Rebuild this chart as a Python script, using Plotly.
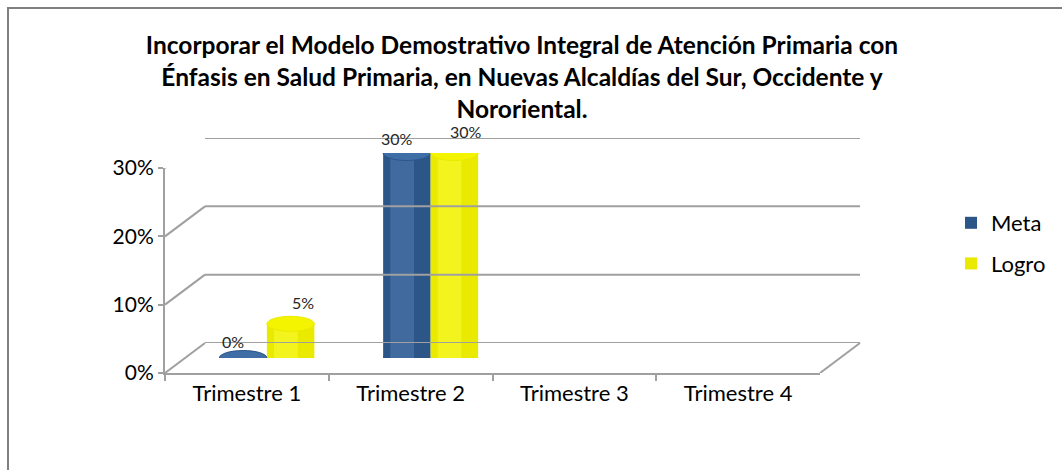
import plotly.graph_objects as go

# datos
trimestres = ["Trimestre 1", "Trimestre 2", "Trimestre 3", "Trimestre 4"]
meta = [0.0, 0.30, None, None]
logro = [0.05, 0.30, None, None]
ticks_y = [0.0, 0.1, 0.2, 0.3]
tick_text = ["0%", "10%", "20%", "30%"]

W, H = 1062, 470
GRID = "#a0a0a0"
AZUL = "#2c5688"
AZUL_LUZ = "#5a86bd"
AZUL_TOP = "#3f6da6"
AMARILLO = "#eaea00"
AMARILLO_LUZ = "#ffff40"
AMARILLO_TOP = "#f4f400"
FONT = "Lato"
BAR_W = 0.29
DX, DY = 40, 30  # profundidad del "3D" en px


def px_x(a, b):
    return [a / W, b / W]


def px_y(bottom, top):
    return [(H - bottom) / H, (H - top) / H]


fig = go.Figure()

# eje frontal (solo para dibujar ejes/etiquetas)
fig.add_trace(go.Scatter(
    x=trimestres, y=[0] * 4, xaxis="x", yaxis="y",
    mode="markers", marker=dict(opacity=0), showlegend=False, hoverinfo="skip",
))

# barras (cilindros) en el plano medio
for name, vals, off, body, luz, grp in (("Meta", meta, -BAR_W, AZUL, AZUL_LUZ, "a"),
                                         ("Logro", logro, 0, AMARILLO, AMARILLO_LUZ, "b")):
    fig.add_trace(go.Bar(
        name=name, x=trimestres, y=vals, xaxis="x3", yaxis="y3",
        marker=dict(color=body, line=dict(width=0)), width=BAR_W, offset=off,
        legendgroup=grp,
    ))
    # brillo del cilindro
    fig.add_trace(go.Bar(
        x=trimestres, y=vals, xaxis="x3", yaxis="y3", showlegend=False, hoverinfo="skip",
        marker=dict(color=luz, opacity=0.45, line=dict(width=0)),
        width=BAR_W * 0.5, offset=off + BAR_W * 0.15, legendgroup=grp,
    ))

shapes = []
annotations = []

# pared del fondo: lineas horizontales
for v in ticks_y:
    shapes.append(dict(type="line", xref="x2 domain", yref="y2", x0=0, x1=1, y0=v, y1=v,
                       line=dict(color=GRID, width=2)))
    # diagonales de la pared lateral
    shapes.append(dict(type="line", xref="x domain", yref="y", xsizemode="pixel", ysizemode="pixel",
                       xanchor=0, yanchor=v, x0=0, x1=DX, y0=0, y1=DY,
                       line=dict(color=GRID, width=2)))
# diagonal derecha del piso
shapes.append(dict(type="line", xref="x domain", yref="y", xsizemode="pixel", ysizemode="pixel",
                   xanchor=1, yanchor=0, x0=0, x1=DX, y0=0, y1=DY,
                   line=dict(color=GRID, width=2)))

# tapas elipticas de los cilindros
half = BAR_W * 0.5 * 163.75  # px
for i, cat in enumerate(trimestres):
    for vals, off, body, top in ((meta, -BAR_W / 2, AZUL, AZUL_TOP), (logro, BAR_W / 2, AMARILLO, AMARILLO_TOP)):
        v = vals[i]
        if v is None:
            continue
        shapes.append(dict(type="circle", xref="x3", yref="y3", xsizemode="pixel", ysizemode="pixel",
                           xanchor=i + off, yanchor=0, x0=-half, x1=half, y0=-7, y1=7,
                           fillcolor=body, line=dict(width=0), layer="below"))
        shapes.append(dict(type="circle", xref="x3", yref="y3", xsizemode="pixel", ysizemode="pixel",
                           xanchor=i + off, yanchor=v, x0=-half, x1=half, y0=-7.5, y1=7.5,
                           fillcolor=top, line=dict(color=body, width=1)))
        if off < 0:
            sx, sy = -10, (17 if v < 0.2 else 15)
        else:
            sx, sy = 12, (21 if v < 0.2 else 22)
        annotations.append(dict(
            x=i + off, y=v, xref="x3", yref="y3", text=f"{v:.0%}", showarrow=False,
            xshift=sx, yshift=sy, font=dict(family=FONT, size=16, color="#262626"),
        ))

# marco exterior
shapes.append(dict(type="rect", xref="paper", yref="paper", x0=8 / W, x1=1.05, y0=-0.05, y1=(H - 8) / H,
                   line=dict(color="#7f7f7f", width=2), fillcolor="rgba(0,0,0,0)", layer="below"))

ax_common = dict(automargin=False, zeroline=False, showgrid=False)

fig.update_layout(
    width=W, height=H, autosize=False,
    margin=dict(l=0, r=0, t=0, b=0, pad=0),
    paper_bgcolor="white", plot_bgcolor="rgba(0,0,0,0)",
    font=dict(family=FONT, size=22, color="black"),
    title=dict(
        text="<b>Incorporar el Modelo Demostrativo Integral de Atención Primaria con<br>"
             "Énfasis en Salud Primaria, en Nuevas Alcaldías del Sur, Occidente y<br>"
             "Nororiental.</b>",
        x=522 / W, xanchor="center", y=(H - 54) / H, yanchor="top", automargin=False,
        font=dict(family=FONT, size=24.5, color="black"),
    ),
    xaxis=dict(domain=px_x(165, 820), type="category", categoryarray=trimestres, range=[-0.5, 3.5],
               showline=True, linecolor=GRID, linewidth=2, ticks="outside", tickson="boundaries",
               ticklen=6, tickwidth=2, tickcolor=GRID, tickfont=dict(size=22), anchor="y", **ax_common),
    yaxis=dict(domain=px_y(373, 168), range=[0, 0.3], tickvals=ticks_y, ticktext=tick_text,
               showline=True, linecolor=GRID, linewidth=2, ticks="outside", ticklen=5, tickwidth=2,
               tickcolor=GRID, tickfont=dict(size=21), anchor="x", **ax_common),
    xaxis2=dict(domain=px_x(165 + DX, 820 + DX), range=[-0.5, 3.5], visible=False, anchor="y2", **ax_common),
    yaxis2=dict(domain=px_y(373 - DY, 168 - DY), range=[0, 0.3], visible=False, anchor="x2", **ax_common),
    xaxis3=dict(domain=px_x(165 + DX / 2, 820 + DX / 2), type="category", categoryarray=trimestres,
                range=[-0.5, 3.5], visible=False, anchor="y3", **ax_common),
    yaxis3=dict(domain=px_y(373 - DY / 2, 168 - DY / 2), range=[0, 0.3], visible=False, anchor="x3",
                **ax_common),
    barmode="overlay",
    legend=dict(x=951 / W, y=(H - 202) / H, xanchor="left", yanchor="top",
                font=dict(size=22), tracegroupgap=9, bgcolor="rgba(0,0,0,0)"),
    shapes=shapes,
    annotations=annotations,
    showlegend=True,
)

fig.write_html("out.html", config={"displayModeBar": False},
               post_script="document.body.style.margin='0';")
